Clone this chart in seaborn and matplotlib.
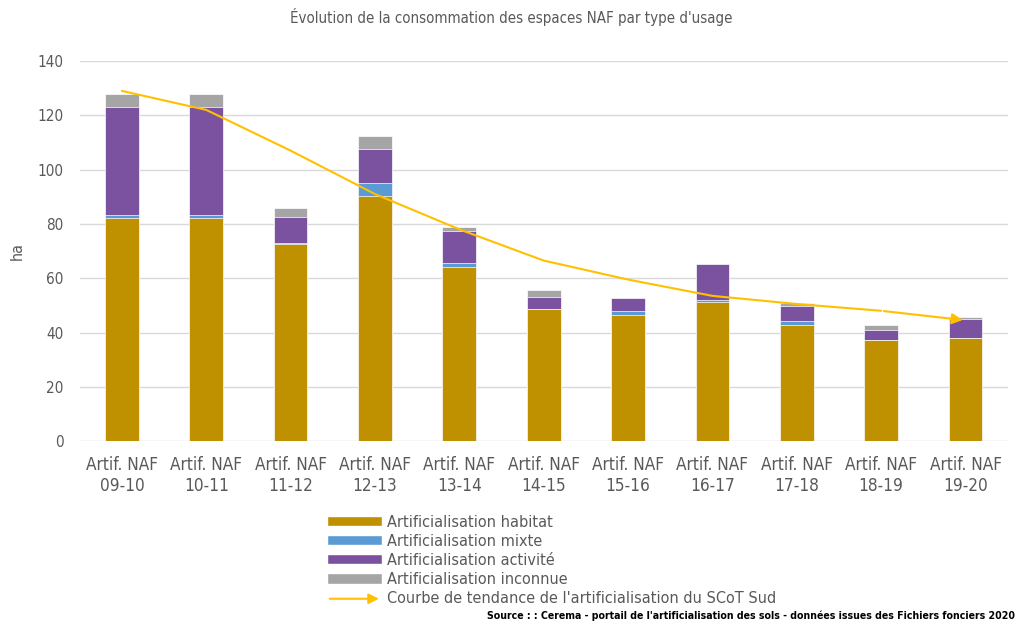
import seaborn as sns
import matplotlib.pyplot as plt
import pandas as pd
import numpy as np
from matplotlib.patches import Patch, FancyArrowPatch
from matplotlib.legend_handler import HandlerBase

sns.set_style("white")
plt.rcParams['font.family'] = ['DejaVu Sans']
plt.rcParams['font.stretch'] = 'condensed'

# Data (ha)
periodes = ['Artif. NAF\n09-10', 'Artif. NAF\n10-11', 'Artif. NAF\n11-12', 'Artif. NAF\n12-13',
            'Artif. NAF\n13-14', 'Artif. NAF\n14-15', 'Artif. NAF\n15-16', 'Artif. NAF\n16-17',
            'Artif. NAF\n17-18', 'Artif. NAF\n18-19', 'Artif. NAF\n19-20']
habitat = [82.0, 82.0, 72.7, 90.4, 64.2, 48.6, 46.4, 51.1, 42.6, 37.2, 37.8]
mixte = [1.3, 1.3, 0.3, 4.6, 1.5, 0.2, 1.4, 0.8, 1.5, 0.0, 0.3]
activite = [39.7, 39.7, 9.5, 12.6, 11.8, 4.2, 5.0, 13.2, 5.8, 3.6, 7.0]
inconnue = [5.0, 5.0, 3.5, 4.9, 1.2, 2.5, 0.0, 0.0, 0.8, 2.1, 0.7]
tendance = [129, 122, 107, 91, 78, 66.5, 59.5, 53.5, 50.5, 48, 44.5]

series = ['Artificialisation habitat', 'Artificialisation mixte',
          'Artificialisation activité', 'Artificialisation inconnue']
colors = ['#BF9000', '#5B9BD5', '#7B52A0', '#A5A5A5']
trend_color = '#FFC000'
grey_txt = '#595959'

df = pd.DataFrame({'periode': periodes, 'habitat': habitat, 'mixte': mixte,
                   'activite': activite, 'inconnue': inconnue, 'tendance': tendance})
cum = df[['habitat', 'mixte', 'activite', 'inconnue']].cumsum(axis=1)

fig = plt.figure(figsize=(10.22, 6.23), dpi=100)
ax = fig.add_axes([0.078, 0.292, 0.908, 0.61])

# stacked bars drawn as overlapping cumulative totals, tallest first
for col, c in reversed(list(zip(cum.columns, colors))):
    sns.barplot(x=df['periode'], y=cum[col], color=c, width=0.4, ax=ax,
                edgecolor='white', linewidth=0.5, saturation=1)

# trend curve
sns.lineplot(x=np.arange(len(df) - 1), y=df['tendance'][:-1], color=trend_color, lw=1.5, ax=ax)
ax.annotate('', xy=(len(df) - 1, df['tendance'].iloc[-1]),
            xytext=(len(df) - 2, df['tendance'].iloc[-2]),
            arrowprops=dict(arrowstyle='-|>', color=trend_color, lw=1.5, mutation_scale=16))

ax.set_ylim(0, 140)
ax.set_xlim(-0.5, 10.5)
ax.set_yticks(range(0, 141, 20))
ax.yaxis.grid(True, color='#D9D9D9', lw=1)
ax.set_axisbelow(True)
for s in ax.spines.values():
    s.set_visible(False)
ax.tick_params(axis='x', colors=grey_txt, labelsize=12.3, length=0, pad=11)
ax.tick_params(axis='y', colors=grey_txt, labelsize=11, length=0, pad=11.5)
ax.set_xlabel('')
ax.set_ylabel('ha', color=grey_txt, fontsize=11.5, labelpad=9)

fig.text(0.5, 0.972, "Évolution de la consommation des espaces NAF par type d'usage",
         ha='center', va='center', fontsize=10.8, color=grey_txt)


class ArrowHandler(HandlerBase):
    def create_artists(self, legend, orig, xd, yd, w, h, fontsize, trans):
        a = FancyArrowPatch((xd, yd + h / 2), (xd + w, yd + h / 2), arrowstyle='-|>',
                            mutation_scale=15, color=trend_color, lw=1.5, transform=trans)
        return [a]


handles = [Patch(facecolor=c, label=l) for c, l in zip(colors, series)]
arrow_h = Patch(label="Courbe de tendance de l'artificialisation du SCoT Sud")
handles.append(arrow_h)
leg = fig.legend(handles=handles, loc='upper left', bbox_to_anchor=(0.312, 0.187),
                 frameon=False, fontsize=11.6, handlelength=3.4, handleheight=0.6,
                 labelspacing=0.26, handletextpad=0.3, borderpad=0,
                 handler_map={arrow_h: ArrowHandler()})
for t in leg.get_texts():
    t.set_color(grey_txt)

fig.text(0.993, 0.004, 'Source : : Cerema - portail de l\'artificialisation des sols - données issues des Fichiers fonciers 2020',
         ha='right', va='bottom', fontsize=7.6, fontweight='bold', color='black')

fig.savefig('out.png', dpi=100)
